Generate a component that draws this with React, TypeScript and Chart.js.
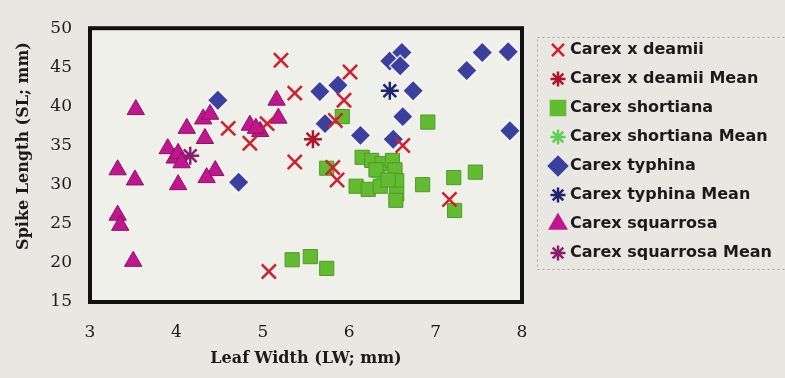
import React, { useEffect, useRef } from 'react';
import { Chart, registerables } from 'chart.js';
import { drawPoint } from 'chart.js/helpers';

Chart.register(...registerables);

// ---- data ----
const xRange = [3, 8];
const yRange = [15, 50];

const deamiiX = [5.21, 5.37, 6.01, 5.94, 4.6, 4.85, 5.05, 5.37, 5.86, 5.81, 5.84, 6.62, 7.16, 5.07];
const deamiiY = [45.9, 41.7, 44.4, 40.8, 37.2, 35.3, 37.8, 32.9, 30.6, 32.2, 38.2, 35.0, 28.1, 18.9];
const deamiiMeanX = [5.58];
const deamiiMeanY = [35.8];

const shortianaX = [5.92, 6.91, 5.34, 5.55, 5.74, 5.74, 6.15, 6.26, 6.38, 6.5, 6.31, 6.53, 6.55, 6.55, 6.54, 6.08, 6.22, 6.36, 6.45, 6.85, 7.21, 7.46, 7.22];
const shortianaY = [38.7, 38.0, 20.4, 20.8, 19.3, 32.1, 33.5, 33.1, 32.7, 33.1, 31.9, 31.9, 30.5, 28.8, 28.0, 29.8, 29.4, 29.8, 30.6, 30.0, 30.9, 31.6, 26.7];
const shortianaMeanX = [6.35];
const shortianaMeanY = [31.0];

const typhinaX = [4.48, 4.72, 5.66, 5.87, 5.72, 6.13, 6.47, 6.61, 6.59, 7.54, 7.84, 7.36, 6.74, 6.62, 6.51, 7.86];
const typhinaY = [40.8, 30.3, 41.9, 42.7, 37.8, 36.3, 45.8, 46.9, 45.2, 46.9, 47.0, 44.6, 42.0, 38.7, 35.8, 36.9];
const typhinaMeanX = [6.47];
const typhinaMeanY = [42.0];

const squarrosaX = [3.53, 4.31, 4.39, 4.12, 4.33, 3.9, 3.98, 4.02, 4.06, 4.45, 3.32, 3.52, 4.02, 4.35, 3.32, 3.35, 3.5, 5.16, 5.18, 4.85, 4.97, 4.92];
const squarrosaY = [39.6, 38.4, 39.0, 37.2, 35.9, 34.6, 33.4, 34.0, 32.8, 31.8, 31.9, 30.6, 30.0, 30.9, 26.1, 24.8, 20.2, 40.8, 38.5, 37.6, 36.8, 37.2];
const squarrosaMeanX = [4.16];
const squarrosaMeanY = [33.7];

const seriesLabels = [
  'Carex x deamii',
  'Carex x deamii Mean',
  'Carex shortiana',
  'Carex shortiana Mean',
  'Carex typhina',
  'Carex typhina Mean',
  'Carex squarrosa',
  'Carex squarrosa Mean',
];

const xTitle = 'Leaf Width (LW; mm)';
const yTitle = 'Spike Length (SL; mm)';

const pts = (xs: number[], ys: number[]) => xs.map((x, i) => ({ x, y: ys[i] }));

// ---- styles ----
const styles = [
  { pointStyle: 'crossRot', radius: 10, bg: '#d0202f', border: '#d0202f', bw: 2.5, lr: 8.5 },
  { pointStyle: 'star', radius: 9, bg: '#b0152c', border: '#b0152c', bw: 2.5, lr: 7.5 },
  { pointStyle: 'rect', radius: 10, bg: '#62bb30', border: '#4f9a26', bw: 1, lr: 10 },
  { pointStyle: 'star', radius: 9, bg: '#5fcf55', border: '#5fcf55', bw: 2.5, lr: 7.5 },
  { pointStyle: 'rectRot', radius: 10.5, bg: '#3b3f9e', border: 'rgba(255,255,255,0.85)', bw: 1.5, lr: 9 },
  { pointStyle: 'star', radius: 9, bg: '#1f2670', border: '#1f2670', bw: 2.5, lr: 7.5 },
  { pointStyle: 'triangle', radius: 10, bg: '#c0178e', border: '#8e0f68', bw: 1, lr: 9 },
  { pointStyle: 'star', radius: 9, bg: '#8a1f6c', border: '#8a1f6c', bw: 2.5, lr: 7.5 },
];

const seriesData = [
  pts(deamiiX, deamiiY),
  pts(deamiiMeanX, deamiiMeanY),
  pts(shortianaX, shortianaY),
  pts(shortianaMeanX, shortianaMeanY),
  pts(typhinaX, typhinaY),
  pts(typhinaMeanX, typhinaMeanY),
  pts(squarrosaX, squarrosaY),
  pts(squarrosaMeanX, squarrosaMeanY),
];

const bgPlugin = {
  id: 'bgPlugin',
  beforeDraw(chart: any) {
    const { ctx, chartArea } = chart;
    ctx.save();
    ctx.fillStyle = '#e8e7e2';
    ctx.fillRect(0, 0, chart.width, chart.height);
    ctx.fillStyle = '#f0f0eb';
    ctx.fillRect(chartArea.left, chartArea.top, chartArea.right - chartArea.left, chartArea.bottom - chartArea.top);
    ctx.restore();
  },
  afterDatasetsDraw(chart: any) {
    const { ctx, chartArea } = chart;
    ctx.save();
    ctx.strokeStyle = '#111';
    ctx.lineWidth = 4;
    ctx.strokeRect(chartArea.left, chartArea.top, chartArea.right - chartArea.left, chartArea.bottom - chartArea.top);
    // y axis title (drawn as text, rotated)
    ctx.translate(24, 146);
    ctx.rotate(-Math.PI / 2);
    ctx.fillStyle = '#1b1b1b';
    ctx.font = 'bold 16px "DejaVu Serif"';
    ctx.textAlign = 'center';
    ctx.textBaseline = 'middle';
    ctx.fillText(yTitle, 0, 0);
    ctx.restore();
  },
};

const legendPlugin = {
  id: 'boxLegend',
  afterDraw(chart: any) {
    const { ctx } = chart;
    ctx.save();
    ctx.setLineDash([2, 3]);
    ctx.strokeStyle = '#a0a0a0';
    ctx.lineWidth = 1;
    ctx.strokeRect(537.5, 37.5, 260, 232);
    ctx.setLineDash([]);
    chart.data.datasets.forEach((ds: any, i: number) => {
      const st = styles[i];
      const y = 50 + i * 29;
      const x = 558;
      const isLine = st.pointStyle === 'crossRot' || st.pointStyle === 'star';
      ctx.fillStyle = st.bg;
      ctx.strokeStyle = st.bg;
      ctx.lineWidth = isLine ? 2.5 : 0;
      drawPoint(ctx, { pointStyle: st.pointStyle, radius: st.lr, rotation: 0, borderWidth: ctx.lineWidth } as any, x, y);
      ctx.fillStyle = '#1b1b1b';
      ctx.font = 'bold 16px "DejaVu Sans"';
      ctx.textBaseline = 'middle';
      ctx.textAlign = 'left';
      ctx.fillText(ds.label, 570, y);
    });
    ctx.restore();
  },
};

export default function App() {
  const ref = useRef<HTMLCanvasElement | null>(null);
  useEffect(() => {
    if (!ref.current) return;
    const chart = new Chart(ref.current, {
      type: 'scatter',
      data: {
        datasets: seriesLabels.map((label, i) => ({
          label,
          data: seriesData[i],
          pointStyle: styles[i].pointStyle as any,
          pointRadius: styles[i].radius,
          pointBackgroundColor: styles[i].bg,
          pointBorderColor: styles[i].border,
          pointBorderWidth: styles[i].bw,
          backgroundColor: styles[i].bg,
          borderColor: styles[i].border,
        })),
      },
      options: {
        responsive: false,
        animation: false,
        layout: { padding: { top: 18, right: 263, left: 0, bottom: 0 } },
        plugins: { legend: { display: false }, tooltip: { enabled: false } },
        scales: {
          x: {
            type: 'linear',
            min: xRange[0],
            max: xRange[1],
            grid: { display: false, drawTicks: false },
            border: { display: false },
            ticks: { stepSize: 1, padding: 20, color: '#1b1b1b', font: { family: '"DejaVu Serif"', size: 17 } },
            title: { display: true, text: xTitle, color: '#1b1b1b', font: { family: '"DejaVu Serif"', size: 16, weight: 'bold' }, padding: { top: 0, bottom: 10 } },
            afterFit: (s: any) => { s.height = 76; },
          },
          y: {
            type: 'linear',
            min: yRange[0],
            max: yRange[1],
            grid: { display: false, drawTicks: false },
            border: { display: false },
            ticks: { stepSize: 5, padding: 18, color: '#1b1b1b', font: { family: '"DejaVu Serif"', size: 17 } },
            title: { display: false, text: yTitle },
            afterFit: (s: any) => { s.width = 90; },
          },
        },
      },
      plugins: [bgPlugin, legendPlugin],
    });
    return () => chart.destroy();
  }, []);
  return (
    <div style={{ position: 'fixed', left: 0, top: 0, width: 785, height: 378 }}>
      <canvas ref={ref} width={785} height={378} style={{ width: 785, height: 378 }} />
    </div>
  );
}
